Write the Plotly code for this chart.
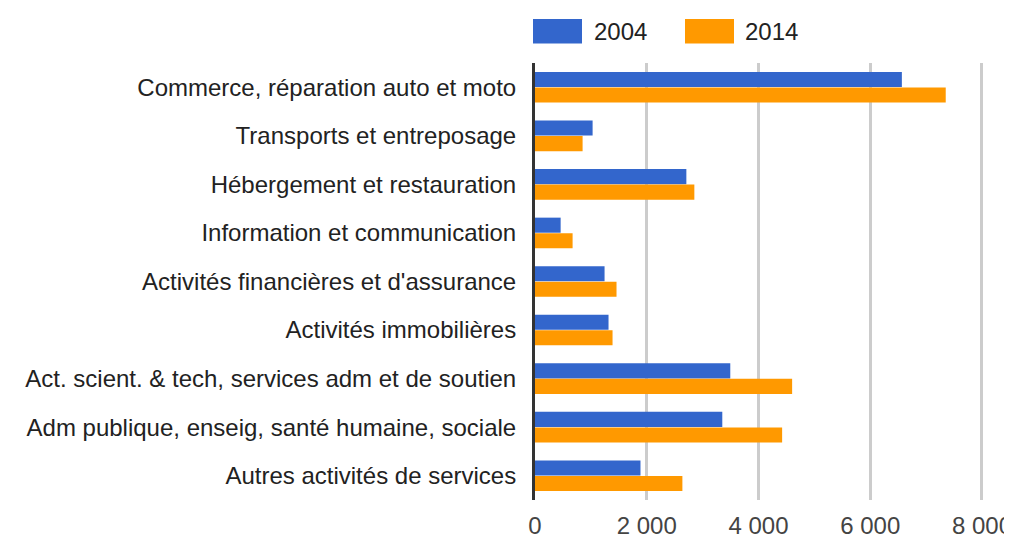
import plotly.graph_objects as go

categories = [
    "Commerce, réparation auto et moto",
    "Transports et entreposage",
    "Hébergement et restauration",
    "Information et communication",
    "Activités financières et d'assurance",
    "Activités immobilières",
    "Act. scient. & tech, services adm et de soutien",
    "Adm publique, enseig, santé humaine, sociale",
    "Autres activités de services",
]
values_2004 = [6566, 1031, 2709, 459, 1245, 1316, 3495, 3352, 1888]
values_2014 = [7351, 852, 2852, 673, 1459, 1388, 4602, 4423, 2638]
series_names = ["2004", "2014"]
tick_vals = [0, 2000, 4000, 6000, 8000]
tick_text = ["0", "2 000", "4 000", "6 000", "8 000"]

BLUE = "#3366cc"
ORANGE = "#ff9900"
FONT = "Arial, Liberation Sans, sans-serif"
FS = 24

# page body has an 8px margin; compensate
OFF = 8
W, H = 1012 - OFF, 541 - OFF
L, R, T, B = 535 - OFF, 28, 63 - OFF, 541 - 500
PW, PH = W - L - R, H - T - B

fig = go.Figure()
fig.add_trace(go.Bar(y=categories, x=values_2004, name=series_names[0],
                     orientation="h", marker=dict(color=BLUE, line=dict(width=0))))
fig.add_trace(go.Bar(y=categories, x=values_2014, name=series_names[1],
                     orientation="h", marker=dict(color=ORANGE, line=dict(width=0))))

fig.update_layout(
    width=W, height=H,
    margin=dict(l=L, r=R, t=T, b=B, pad=0, autoexpand=False),
    paper_bgcolor="white", plot_bgcolor="white",
    barmode="group", bargap=0.36, bargroupgap=0.03,
    showlegend=False,
    font=dict(family=FONT, size=FS, color="#222222"),
    xaxis=dict(range=[0, 8036], tickvals=tick_vals, ticktext=tick_text,
               showgrid=True, gridcolor="#cccccc", gridwidth=2.5,
               zeroline=False, showline=False, ticks="", automargin=False,
               ticklabeloverflow="allow",
               tickfont=dict(size=FS, color="#444444"), ticklabelstandoff=9),
    yaxis=dict(autorange="reversed", showline=True, linecolor="#333333", linewidth=3,
               ticks="", showgrid=False, automargin=False,
               tickfont=dict(size=FS, color="#222222"),
               ticklabelstandoff=11),
)

# Legend drawn at top (page pixel coords)
def px_x(x):
    return (x - 535) / PW

def px_y(y):
    return (500 - y) / PH

legend_items = [(533, 582, 592, series_names[0], BLUE), (685, 734, 743, series_names[1], ORANGE)]
for x0, x1, tx, name, col in legend_items:
    fig.add_shape(type="rect", xref="paper", yref="paper",
                  x0=px_x(x0), x1=px_x(x1), y0=px_y(43.5), y1=px_y(19),
                  fillcolor=col, line=dict(width=0), layer="above")
    fig.add_annotation(xref="paper", yref="paper", x=px_x(tx), y=px_y(31.5),
                       text=name, showarrow=False, xanchor="left", yanchor="middle",
                       font=dict(size=FS, color="#222222", family=FONT))

fig.write_html("out.html")
